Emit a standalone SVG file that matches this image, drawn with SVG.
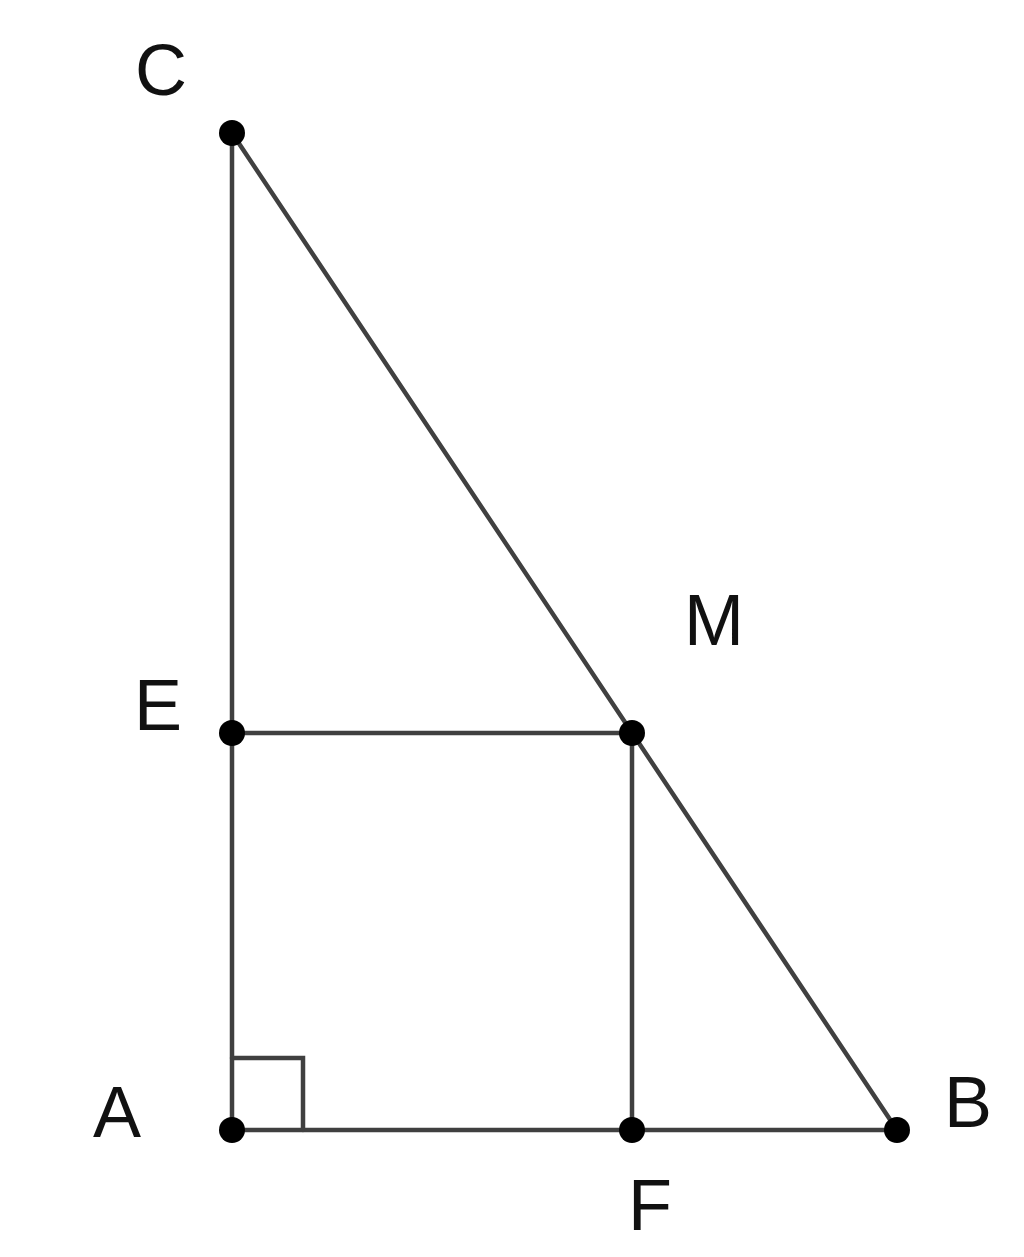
<svg xmlns="http://www.w3.org/2000/svg" width="1024" height="1257" viewBox="0 0 1024 1257">
<style>
.seg{stroke:#404040;stroke-width:4.5;fill:none;stroke-linecap:round}
.pt{fill:#000}
.lbl{font-family:"Liberation Sans",Arial,sans-serif;font-size:72px;fill:#111}
</style>
<rect width="1024" height="1257" fill="#fff"/>
<g id="connectors">
<line class="seg" x1="232" y1="133" x2="232" y2="1130"/>
<line class="seg" x1="232" y1="1130" x2="897" y2="1130"/>
<line class="seg" x1="232" y1="133" x2="897" y2="1130"/>
<line class="seg" x1="232" y1="733" x2="632" y2="733"/>
<line class="seg" x1="632" y1="733" x2="632" y2="1130"/>
<polyline class="seg" points="232,1058 303,1058 303,1130" stroke="#333"/>
</g>
<g id="C"><circle class="pt" cx="232" cy="133" r="13"/><text class="lbl" x="135" y="95">C</text></g>
<g id="E"><circle class="pt" cx="232" cy="733" r="13"/><text class="lbl" x="134" y="730">E</text></g>
<g id="M"><circle class="pt" cx="632" cy="733" r="13"/><text class="lbl" x="684" y="645">M</text></g>
<g id="A"><circle class="pt" cx="232" cy="1130" r="13"/><text class="lbl" x="93" y="1137">A</text></g>
<g id="F"><circle class="pt" cx="632" cy="1130" r="13"/><text class="lbl" x="628" y="1230">F</text></g>
<g id="B"><circle class="pt" cx="897" cy="1130" r="13"/><text class="lbl" x="944" y="1127">B</text></g>
</svg>
